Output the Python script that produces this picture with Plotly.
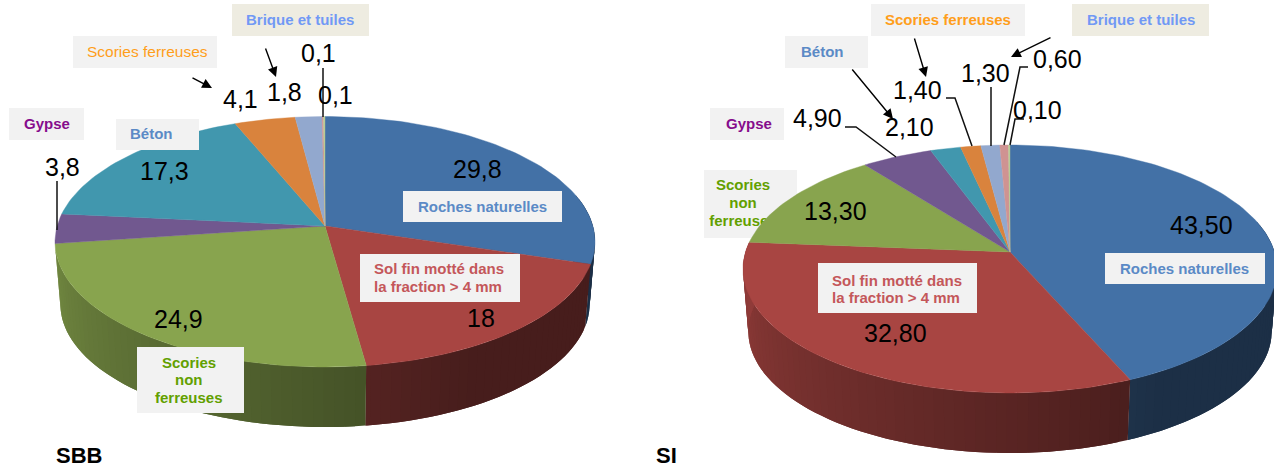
import math
import plotly.graph_objects as go

CATEGORIES = ["Roches naturelles", "Sol fin motté dans la fraction > 4 mm", "Scories non ferreuses",
              "Gypse", "Béton", "Scories ferreuses", "Brique et tuiles", "Autre 1", "Autre 2"]
SBB_VALUES = [29.8, 18, 24.9, 3.8, 17.3, 4.1, 1.8, 0.1, 0.1]
SI_VALUES = [43.5, 32.8, 13.3, 4.9, 2.1, 1.4, 1.3, 0.6, 0.1]
SBB_TEXT = ["29,8", "18", "24,9", "3,8", "17,3", "4,1", "1,8", "0,1", "0,1"]
SI_TEXT = ["43,50", "32,80", "13,30", "4,90", "2,10", "1,40", "1,30", "0,60", "0,10"]
COLORS = ["#4371A6", "#A84542", "#88A44E", "#71588F", "#4197AE", "#D9833D", "#92A8CE", "#CF9392", "#B8CC96"]

SBB_TEXT_POS = [(477, 169), (481, 318), (178, 319), (62, 167), (164, 171), (240, 99), (284, 92), (335, 95), (318, 53)]
SI_TEXT_POS = [(1201, 225), (895, 333), (835, 211), (817, 118), (909, 127), (917, 90), (985, 73), (1057, 59), (1037, 110)]

# pie geometry in picture units: apex x, apex y, half-width, far radius, near radius
SBB_GEOM = (325, 226, 270, 109.5, 141)
SI_GEOM = (1010, 252, 267, 107, 141)
DEPTH = 60

GREY = "#F2F2F2"
BEIGE = "#EEECE1"
BLUE = "#5B8AC6"
RED = "#C4575A"
GREEN = "#62A000"
ORANGE = "#FF9E1B"
PURPLE = "#860C8C"
SKY = "#7199F5"

# box (x0, y0, x1, y1), fill, [(text, x, y, anchor)], colour, weight
BOXES = [
    ((9, 108, 84, 140), GREY, [("Gypse", 47, 123, "center")], PURPLE, True),
    ((116, 119, 199, 150), GREY, [("Béton", 151, 133, "center")], BLUE, True),
    ((73, 36, 217, 68), GREY, [("Scories ferreuses", 147, 51, "center")], ORANGE, False),
    ((232, 4, 369, 36), BEIGE, [("Brique et tuiles", 300, 19, "center")], SKY, True),
    ((403, 191, 562, 222), GREY, [("Roches naturelles", 482, 206, "center")], BLUE, True),
    ((360, 254, 520, 302), GREY, [("Sol fin motté dans", 372, 268, "left"), ("la fraction > 4 mm", 372, 286, "left")], RED, True),
    ((137, 347, 244, 413), GREY, [("Scories", 189, 362, "center"), ("non", 189, 379, "center"), ("ferreuses", 189, 397, "center")], GREEN, True),
    ((871, 4, 1025, 36), GREY, [("Scories ferreuses", 948, 19, "center")], ORANGE, True),
    ((1072, 4, 1209, 36), BEIGE, [("Brique et tuiles", 1141, 19, "center")], SKY, True),
    ((785, 36, 868, 68), GREY, [("Béton", 822, 51, "center")], BLUE, True),
    ((710, 108, 784, 140), GREY, [("Gypse", 749, 123, "center")], PURPLE, True),
    ((1105, 253, 1265, 284), GREY, [("Roches naturelles", 1184, 268, "center")], BLUE, True),
    ((818, 263, 977, 313), GREY, [("Sol fin motté dans", 830, 280, "left"), ("la fraction > 4 mm", 830, 297, "left")], RED, True),
]
# this box lies behind the pie, so its last line is cut by the green slice
BEHIND_BOX = ((704, 170, 797, 238), GREY, [("Scories", 743, 186, "center"), ("non", 743, 204, "center"), ("ferreuses", 743, 222, "center")], GREEN)

LEADERS = [
    [(57, 181), (57, 230)], [(323, 68), (323, 117)],
    [(845, 127), (856, 127), (896, 157)],
    [(946, 98), (955, 98), (972, 146)],
    [(991, 87), (991, 146)],
    [(1028, 67), (1020, 67), (1004, 145)],
    [(1024, 119), (1015, 119), (1010, 145)],
]
ARROWS = [
    ((191, 77), (212, 88)), ((265, 47), (276, 77)),
    ((851, 68), (893, 119)), ((914, 37), (926, 77)), ((1052, 37), (1011, 57)),
]
TITLES = [("SBB", 54, 455), ("SI", 654, 455)]

ARIAL = "Liberation Sans, Arial, sans-serif"
fig = go.Figure()


def project(geom, deg):
    x0, y0, half, far, near = geom
    k = (near - far) / (near + far)
    a = far * (1 + k)
    b = half * math.sqrt(1 - k * k)
    t = math.radians(deg)
    u, v = math.sin(t), math.cos(t)
    return x0 + b * u / (1 + k * v), y0 - a * v / (1 + k * v)


def project_low(geom, deg):
    x0, y0, half, far, near = geom
    px, py = project(geom, deg)
    s = 0.98
    return x0 + s * (px - x0), y0 + (near * (1 - s) + DEPTH) + s * (py - y0)


def hex_shade(col, f):
    r, g, b = (int(col[i:i + 2], 16) for i in (1, 3, 5))
    return f"rgb({round(r * f)},{round(g * f)},{round(b * f)})"


def shade(deg):
    if deg <= 150:
        return 0.42
    return min(0.86, 0.42 + (deg - 150) / 120 * 0.44)


def poly(xs, ys, color, line=0.6):
    fig.add_trace(go.Scatter(x=xs, y=ys, mode="lines", fill="toself", fillcolor=color,
                             line=dict(color=color, width=line), hoverinfo="skip", showlegend=False))


def draw_pie(values, geom):
    total = sum(values)
    edges = [0.0]
    for v in values:
        edges.append(edges[-1] + v / total * 360)
    # walls: each strip runs on under the next one so that no seam shows
    for i, col in enumerate(COLORS):
        if edges[i] >= 260:
            continue
        lo, hi = max(edges[i], 75), min(edges[i + 1], 285)
        d = lo
        while d < hi:
            e = min(d + 2, hi)
            far_end = min(e + 2, hi)
            steps = [d, (d + far_end) / 2, far_end]
            p = [project(geom, s) for s in steps] + [project_low(geom, s) for s in reversed(steps)]
            c = hex_shade(col, shade((d + e) / 2))
            fig.add_trace(go.Scatter(x=[q[0] for q in p], y=[q[1] for q in p], mode="none", fill="toself",
                                     fillcolor=c, hoverinfo="skip", showlegend=False))
            d = e
    # top face
    for i, col in enumerate(COLORS):
        a, b = edges[i], edges[i + 1]
        n = max(2, int((b - a) / 1.5))
        pts = [project(geom, a + (b - a) * j / n) for j in range(n + 1)]
        xs = [geom[0]] + [q[0] for q in pts] + [geom[0]]
        ys = [geom[1]] + [q[1] for q in pts] + [geom[1]]
        poly(xs, ys, col, 0.4)


# box that sits behind the right pie
bx, bfill, blines, bcol = BEHIND_BOX
fig.add_shape(type="rect", x0=bx[0], y0=bx[1], x1=bx[2], y1=bx[3], fillcolor=bfill, line_width=0, layer="below")
for txt, x, y, anc in blines:
    fig.add_trace(go.Scatter(x=[x], y=[y], mode="text", text=[f"<b>{txt}</b>"], textposition="middle center",
                             textfont=dict(family=ARIAL, size=15, color=bcol), hoverinfo="skip", showlegend=False))

draw_pie(SBB_VALUES, SBB_GEOM)
draw_pie(SI_VALUES, SI_GEOM)

for box, fill, lines, col, bold in BOXES:
    fig.add_shape(type="rect", x0=box[0], y0=box[1], x1=box[2], y1=box[3], fillcolor=fill, line_width=0, layer="above")
    for txt, x, y, anc in lines:
        fig.add_annotation(x=x, y=y, text=f"<b>{txt}</b>" if bold else txt, showarrow=False, xanchor=anc, yanchor="middle",
                           font=dict(family=ARIAL, size=15 if bold else 15.5, color=col))

for labels, spots in ((SBB_TEXT, SBB_TEXT_POS), (SI_TEXT, SI_TEXT_POS)):
    for txt, (x, y) in zip(labels, spots):
        fig.add_annotation(x=x, y=y, text=txt, showarrow=False, xanchor="center", yanchor="middle",
                           font=dict(family=ARIAL, size=25, color="#000000"))

for path in LEADERS:
    fig.add_trace(go.Scatter(x=[p[0] for p in path], y=[p[1] for p in path], mode="lines",
                             line=dict(color="#111111", width=1.5), hoverinfo="skip", showlegend=False))

for (sx, sy), (ex, ey) in ARROWS:
    fig.add_annotation(x=ex, y=ey, ax=sx, ay=sy, xref="x", yref="y", axref="x", ayref="y", text="",
                       showarrow=True, arrowhead=2, arrowsize=1.4, arrowwidth=1.4, arrowcolor="#000000", standoff=0)

for txt, x, y in TITLES:
    fig.add_annotation(x=x, y=y, text=f"<b>{txt}</b>", showarrow=False, xanchor="left", yanchor="middle",
                       font=dict(family=ARIAL, size=22, color="#000000"))

fig.update_layout(width=1274, height=470, margin=dict(l=0, r=0, t=0, b=0), autosize=False,
                  paper_bgcolor="#FFFFFF", plot_bgcolor="#FFFFFF", showlegend=False,
                  xaxis=dict(range=[0, 1274], visible=False, fixedrange=True),
                  yaxis=dict(range=[470, 0], visible=False, fixedrange=True))

fig.write_html("out.html", config={"displayModeBar": False},
               post_script="document.body.style.margin='0';document.body.style.overflow='hidden';")
